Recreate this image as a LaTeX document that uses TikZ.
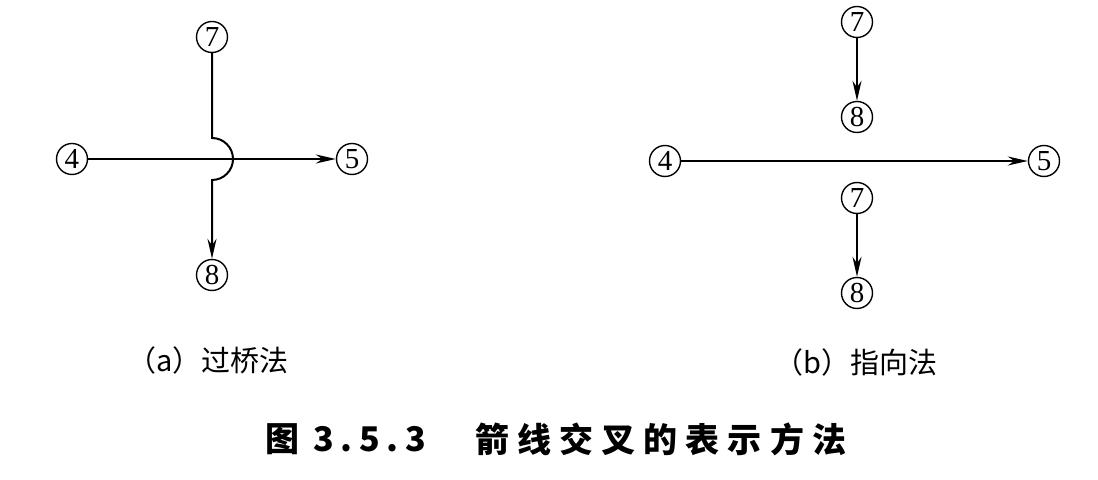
\documentclass[tikz,border=0pt]{standalone}
\usepackage{fontspec}
\newfontfamily\cjk{Noto Sans CJK SC}
\newfontfamily\numfont{Liberation Serif}
\usetikzlibrary{arrows.meta}
\begin{document}
\begin{tikzpicture}[x=0.5pt,y=-0.5pt,
        event/.style={circle,draw,line width=0.7pt,inner sep=0pt,minimum size=15.5pt,font=\numfont\fontsize{14.5}{14.5}\selectfont},
        arr/.style={line width=1pt,-{Stealth[length=10pt,width=4.5pt]}},
        sub/.style={font=\cjk\fontsize{14.5}{14.5}\selectfont},
        figtitle/.style={anchor=west,font=\cjk\bfseries\fontsize{17}{17}\selectfont}]
                \useasboundingbox (0,0) rectangle (1098,480);
                \node[event] (a7) at (212,37) {7};
                \node[event] (a4) at (72,159) {4};
                \node[event] (a5) at (352,159) {5};
                \node[event] (a8) at (212,275) {8};
                \coordinate (up) at (212,138);
                \draw[arr] (a4) -- (a5);
                \draw[arr] (a7) -- (up) arc[start angle=-90,end angle=90,radius=21] -- (a8);

                \node[event] (b7) at (857,22) {7};
                \node[event] (b8) at (857,117) {8};
                \node[event] (b4) at (665,161) {4};
                \node[event] (b5) at (1044,161) {5};
                \node[event] (c7) at (857,198) {7};
                \node[event] (c8) at (857,293) {8};
                \draw[arr] (b7) -- (b8);
                \draw[arr] (b4) -- (b5);
                \draw[arr] (c7) -- (c8);

                \node[sub] (capa) at (208,360) {（a）过桥法};
                \node[sub] (capb) at (856,362) {（b）指向法};
                \node[figtitle] (fignum) at (258,439) {图\hspace{7pt}\addfontfeature{LetterSpace=20}3.5.3};
                \node[figtitle] (title) at (468,439) {\addfontfeature{LetterSpace=24}箭线交叉的表示方法};
\end{tikzpicture}
\end{document}
